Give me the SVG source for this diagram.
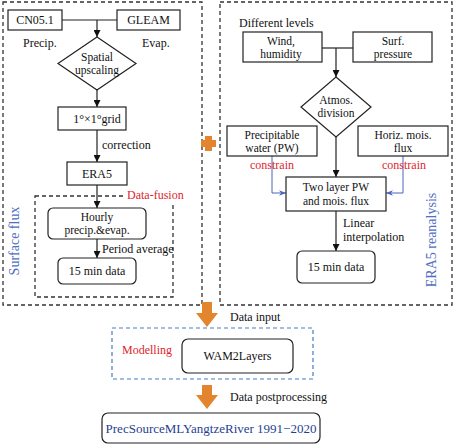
<svg xmlns="http://www.w3.org/2000/svg" width="455" height="447" viewBox="0 0 455 447">
<defs>
<style>
text{font-family:"Liberation Serif","Times New Roman",serif;font-size:12px;fill:#111;}
.c{text-anchor:middle;}
.s{font-size:11.5px;}
.box{fill:#fff;stroke:#222;stroke-width:1.2;}
.dash{fill:none;stroke:#333;stroke-width:1.3;stroke-dasharray:4,3;}
.ln{fill:none;stroke:#222;stroke-width:1.2;}
.bl{fill:none;stroke:#4a66b8;stroke-width:1;}
.red{fill:#e01e2e;}
.blue{fill:#4f6fbf;}
.orange{fill:#e2852e;}
</style>
<marker id="ah" viewBox="0 0 10 10" refX="10" refY="5" markerWidth="7" markerHeight="7" orient="auto" markerUnits="userSpaceOnUse"><path d="M0,0 L10,5 L0,10 z" fill="#111"/></marker>
<marker id="ab" viewBox="0 0 10 10" refX="10" refY="5" markerWidth="7" markerHeight="7" orient="auto" markerUnits="userSpaceOnUse"><path d="M0,1 L10,5 L0,9 L3,5 z" fill="#4a66b8"/></marker>
</defs>

<g id="frames">
<rect class="dash" x="3" y="2" width="199" height="303"/>
<rect class="dash" x="220" y="2" width="232" height="303"/>
<rect class="dash" x="35" y="196" width="138" height="101"/>
<rect x="126" y="190" width="54" height="12" fill="#fff"/>
<rect fill="none" stroke="#4a7abf" stroke-width="1.2" stroke-dasharray="4,3" x="112" y="328" width="201" height="51"/>
</g>

<g id="connectors">
<path class="ln" d="M62,20 H117"/>
<path class="ln" d="M97,20 V37" marker-end="url(#ah)"/>
<path class="ln" d="M97,90 V107" marker-end="url(#ah)"/>
<path class="ln" d="M97,130 V162" marker-end="url(#ah)"/>
<path class="ln" d="M97,185 V208" marker-end="url(#ah)"/>
<path class="ln" d="M97,239 V258" marker-end="url(#ah)"/>
<path class="ln" d="M322,48 H353"/>
<path class="ln" d="M336,48 V77" marker-end="url(#ah)"/>
<path class="ln" d="M336,137 V177" marker-end="url(#ah)"/>
<path class="ln" d="M336,211 V251" marker-end="url(#ah)"/>
<path class="bl" d="M272,156 V193 H286" marker-end="url(#ab)"/>
<path class="bl" d="M403,156 V193 H386" marker-end="url(#ab)"/>
<path class="orange" d="M202,302 H212 V313 H218 L207,327 L196,313 H202 Z"/>
<path class="orange" d="M202,385 H212 V395 H218 L207,409 L196,395 H202 Z"/>
<path class="orange" d="M205,136 H212 V140 H216 V147 H212 V151 H205 V147 H201 V140 H205 Z"/>
</g>

<g id="cn05">
<rect class="box" x="8" y="10" width="54" height="20"/>
<text class="c" x="35" y="24">CN05.1</text>
<text x="23" y="47">Precip.</text>
</g>
<g id="gleam">
<rect class="box" x="117" y="10" width="63" height="20"/>
<text class="c" x="148.5" y="24">GLEAM</text>
<text x="142" y="47">Evap.</text>
</g>
<g id="spatial">
<path class="box" d="M97,37 L136,63.5 L97,90 L58,63.5 Z"/>
<text class="c s" x="97" y="60.5">Spatial</text>
<text class="c s" x="97" y="74">upscaling</text>
</g>
<g id="grid">
<rect class="box" x="58" y="107" width="68" height="23"/>
<text class="c" x="97" y="123">1°×1°grid</text>
<text x="102" y="149">correction</text>
</g>
<g id="era5">
<rect class="box" x="67" y="162" width="60" height="23"/>
<text class="c" x="97" y="178">ERA5</text>
</g>
<g id="datafusion">
<text class="red" x="127" y="199">Data-fusion</text>
</g>
<g id="hourly">
<rect class="box" x="48" y="208" width="98" height="31" rx="5"/>
<text class="c s" x="97" y="220.5">Hourly</text>
<text class="c s" x="97" y="234">precip.&amp;evap.</text>
<text x="102" y="253">Period average</text>
</g>
<g id="min15left">
<rect class="box" x="58" y="258" width="78" height="26" rx="5"/>
<text class="c" x="97" y="275">15 min data</text>
</g>
<g id="surfaceflux">
<text class="c blue" transform="translate(19,241) rotate(-90)" style="font-size:14px">Surface flux</text>
</g>

<g id="levels">
<text x="239" y="27">Different levels</text>
</g>
<g id="wind">
<rect class="box" x="243" y="32" width="79" height="30"/>
<text class="c s" x="281" y="44.5">Wind,</text>
<text class="c s" x="281" y="58">humidity</text>
</g>
<g id="surf">
<rect class="box" x="353" y="32" width="79" height="30"/>
<text class="c s" x="393" y="44.5">Surf.</text>
<text class="c s" x="393" y="58">pressure</text>
</g>
<g id="atmos">
<path class="box" d="M336,77 L371,107 L336,137 L301,107 Z"/>
<text class="c s" x="336" y="103.5">Atmos.</text>
<text class="c s" x="336" y="117">division</text>
</g>
<g id="pw">
<rect class="box" x="227" y="126" width="90" height="30"/>
<text class="c s" x="272" y="138.5">Precipitable</text>
<text class="c s" x="272" y="152">water (PW)</text>
<text class="c red" x="272" y="169">constrain</text>
</g>
<g id="horiz">
<rect class="box" x="358" y="126" width="90" height="30"/>
<text class="c s" x="403" y="138.5">Horiz. mois.</text>
<text class="c s" x="403" y="152">flux</text>
<text class="c red" x="404" y="169">constrain</text>
</g>
<g id="twolayer">
<rect class="box" x="286" y="177" width="100" height="34"/>
<text class="c s" x="336" y="191">Two layer PW</text>
<text class="c s" x="336" y="205">and mois. flux</text>
<text x="343" y="227">Linear</text>
<text x="343" y="241">interpolation</text>
</g>
<g id="min15right">
<rect class="box" x="297" y="251" width="78" height="32" rx="5"/>
<text class="c" x="336" y="271">15 min data</text>
</g>
<g id="era5reanalysis">
<text class="c blue" transform="translate(436,240) rotate(-90)" style="font-size:14px">ERA5 reanalysis</text>
</g>

<g id="datainput">
<text x="230" y="321">Data input</text>
</g>
<g id="modelling">
<text class="red" x="122" y="354">Modelling</text>
</g>
<g id="wam">
<rect class="box" x="182" y="339" width="111" height="34" rx="6"/>
<text class="c" x="237.5" y="360">WAM2Layers</text>
</g>
<g id="postproc">
<text x="230" y="401">Data postprocessing</text>
</g>
<g id="result">
<rect class="box" x="102" y="413" width="218" height="30" rx="6"/>
<text class="c" x="211" y="433" style="font-size:13px;fill:#1f3f8f">PrecSourceMLYangtzeRiver 1991−2020</text>
</g>
</svg>
